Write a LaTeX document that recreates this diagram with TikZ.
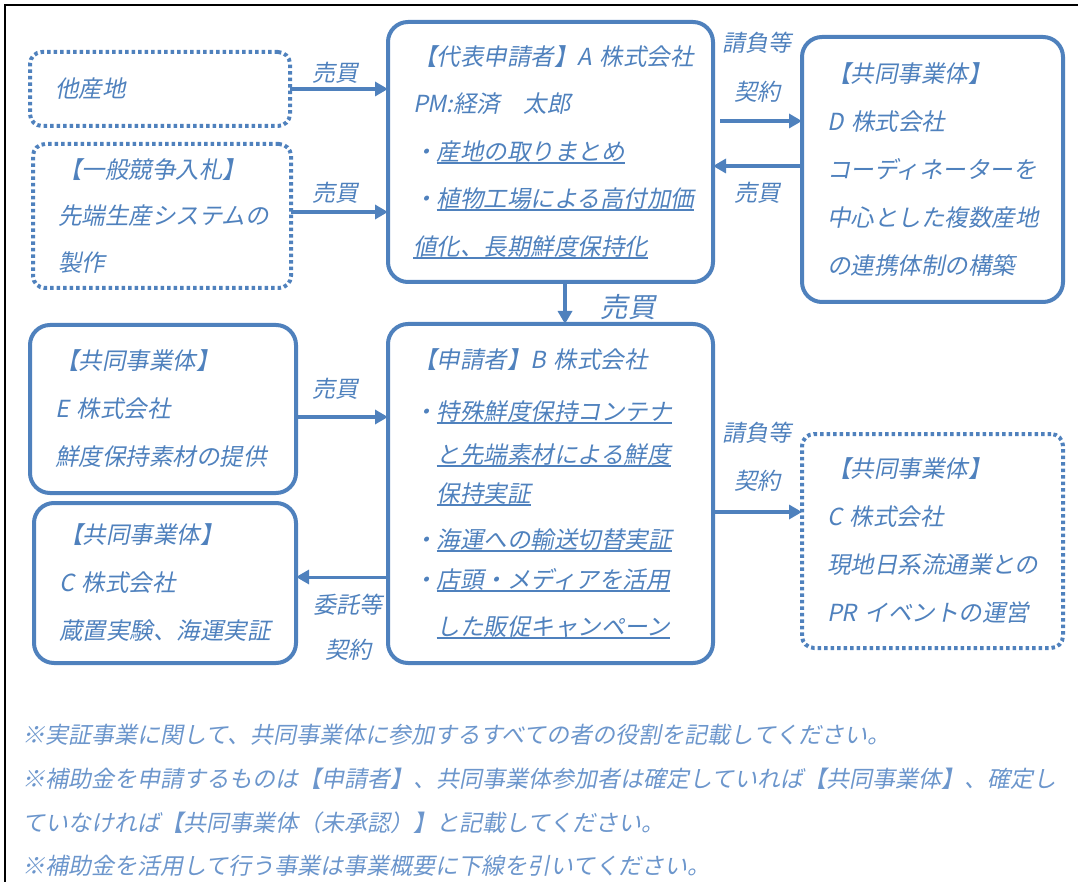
\documentclass[tikz,border=0pt]{standalone}
\usepackage{fontspec}
\setmainfont{Noto Sans CJK JP}[FakeSlant=0.2]
\usetikzlibrary{arrows.meta}
\definecolor{office}{HTML}{4F81BD}
\definecolor{notecol}{HTML}{6C96CC}
\newsavebox\ulbox
\newcommand{\uln}[1]{\leavevmode\sbox\ulbox{#1}\rlap{\rule[-3.5pt]{\wd\ulbox}{1.8pt}}\usebox\ulbox}
\tikzset{
	box/.style={draw=office, line width=4pt, rounded corners=20pt, text=office, align=left,
		anchor=north west, outer sep=0pt, inner xsep=25pt, font=\fontsize{23.5}{48}\selectfont},
	dotbox/.style={box, line width=4pt, dash pattern=on 3.5pt off 3pt, rounded corners=12pt},
	arr/.style={draw=office, line width=4pt, -{Triangle[length=13pt,width=14pt]}},
	lab/.style={text=office, inner sep=0pt, font=\fontsize{23}{23}\selectfont}
}
\begin{document}
\begin{tikzpicture}[x=1pt,y=-1pt]
	\useasboundingbox (0,0) rectangle (1078,882);
	\draw [line width=2.2pt] (1090,5) -- (5,5) -- (5,895);

	% left column
	\node [dotbox, minimum width=260pt, minimum height=74pt, text width=210pt] (oth) at (30,52) {他産地};
	\node [dotbox, minimum width=258pt, minimum height=144pt, text width=208pt,
		font=\fontsize{23.5}{46.5}\selectfont] (bid) at (33,144) {【一般競争入札】\\先端生産システムの\\製作};
	\node [box, minimum width=266pt, minimum height=168pt, text width=216pt] (jvE) at (30,325)
		{【共同事業体】\\E~株式会社\\鮮度保持素材の提供};
	\node [box, minimum width=262pt, minimum height=160pt, text width=212pt] (jvC) at (34,503)
		{【共同事業体】\\C~株式会社\\蔵置実験、海運実証};

	% applicants
	\node [box, minimum width=325pt, minimum height=260pt, text width=275pt,
		font=\fontsize{23.5}{47.5}\selectfont] (appA) at (388,22)
		{【代表申請者】A~株式会社\\PM:経済　太郎\\・\uln{産地の取りまとめ}\\・\uln{植物工場による高付加価}\\\uln{値化、長期鮮度保持化}};
	\node [box, minimum width=325pt, minimum height=339pt, text width=275pt,
		font=\fontsize{23.5}{43}\selectfont] (appB) at (388,324)
		{【申請者】B~株式会社\\[9pt]
		・\uln{特殊鮮度保持コンテナ}\\
		　\uln{と先端素材による鮮度}\\[-4pt]
		　\uln{保持実証}\\[3pt]
		・\uln{海運への輸送切替実証}\\[-3pt]
		・\uln{店頭・メディアを活用}\\[4pt]
		　\uln{した販促キャンペーン}};

	% right column
	\node [box, minimum width=261pt, minimum height=265pt, text width=211pt] (jvD) at (802,37)
		{【共同事業体】\\D~株式会社\\コーディネーターを\\中心とした複数産地\\の連携体制の構築};
	\node [dotbox, minimum width=261pt, minimum height=214pt, text width=211pt] (jvCr) at (802,434)
		{【共同事業体】\\C~株式会社\\現地日系流通業との\\PR~イベントの運営};

	% connectors
	\draw [arr] (oth.east) -- (oth.east -| appA.west);
	\draw [arr] ([yshift=4pt]bid.east) -- ([yshift=4pt]bid.east -| appA.west);
	\draw [arr, shorten <=7pt] ([yshift=31pt]appA.east) -- ([yshift=31pt]appA.east -| jvD.west);
	\draw [arr] ([yshift=3.5pt]jvD.west) -- ([yshift=3.5pt]jvD.west -| appA.east);
	\draw [arr] ([xshift=14.5pt]appA.south) -- ([xshift=14.5pt]appA.south |- appB.north);
	\draw [arr] ([yshift=-8pt]jvE.east) -- ([yshift=-8pt]jvE.east -| appB.west);
	\draw [arr, line width=3pt] ([yshift=-83.5pt]appB.west) -- ([yshift=-83.5pt]appB.west -| jvC.east);
	\draw [arr] ([yshift=-18.5pt]appB.east) -- ([yshift=-18.5pt]appB.east -| jvCr.west);

	% connector labels
	\node [lab] (s1) at (335,73) {売買};
	\node [lab] (s2) at (335,193) {売買};
	\node [lab] (c1) at (757,43) {請負等};
	\node [lab] (k1) at (757,92) {契約};
	\node [lab] (s3) at (757,193) {売買};
	\node [lab, font=\fontsize{27.5}{27.5}\selectfont] (s4) at (628,307) {売買};
	\node [lab] (s5) at (335,389) {売買};
	\node [lab] (c2) at (757,433) {請負等};
	\node [lab] (k2) at (757,481) {契約};
	\node [lab] (t1) at (348,605) {委託等};
	\node [lab] (k3) at (348,650) {契約};

	% notes
	\foreach \t [count=\i] in {※実証事業に関して、共同事業体に参加するすべての者の役割を記載してください。,
			※補助金を申請するものは【申請者】、共同事業体参加者は確定していれば【共同事業体】、確定し,
			ていなければ【共同事業体（未承認）】と記載してください。,
			※補助金を活用して行う事業は事業概要に下線を引いてください。}{%
		\node [anchor=west, inner sep=0pt, text=notecol, font=\fontsize{23}{23}\selectfont]
			(note\i) at (22,{735+(\i-1)*43.7}) {\t};
	}
\end{tikzpicture}
\end{document}
